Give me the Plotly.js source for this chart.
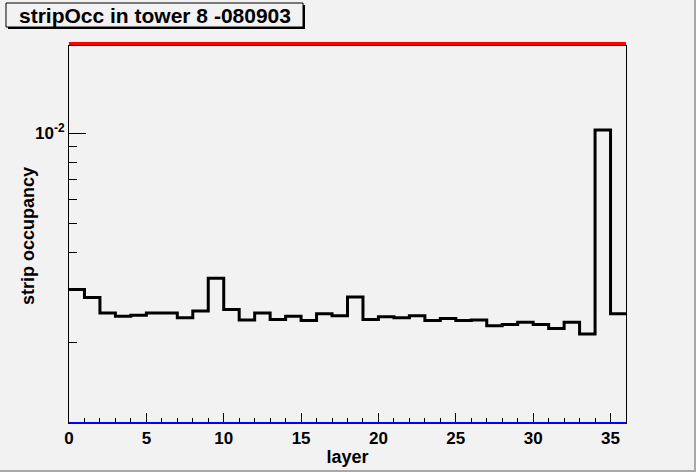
<!DOCTYPE html>
<html>
<head>
<meta charset="utf-8">
<script src="https://cdn.plot.ly/plotly-3.0.1.min.js"></script>
<style>
html,body{margin:0;padding:0;background:#f2f2f2;}
#chart{width:696px;height:472px;}
</style>
</head>
<body>
<div id="chart"></div>
<script>
// Layer index (bin lower edges) and strip occupancy per layer
const layers = [0,1,2,3,4,5,6,7,8,9,10,11,12,13,14,15,16,17,18,19,20,21,22,23,24,25,26,27,28,29,30,31,32,33,34,35];
const occupancy = [
  3.00e-3, 2.82e-3, 2.50e-3, 2.44e-3, 2.46e-3, 2.50e-3, 2.50e-3, 2.41e-3, 2.54e-3, 3.27e-3,
  2.57e-3, 2.37e-3, 2.50e-3, 2.38e-3, 2.44e-3, 2.36e-3, 2.49e-3, 2.45e-3, 2.83e-3, 2.38e-3,
  2.43e-3, 2.41e-3, 2.45e-3, 2.36e-3, 2.40e-3, 2.36e-3, 2.37e-3, 2.27e-3, 2.29e-3, 2.33e-3,
  2.29e-3, 2.22e-3, 2.33e-3, 2.13e-3, 1.026e-2, 2.49e-3
];
const xTickVals = [0,5,10,15,20,25,30,35];
const yTickVals = [0.01];
const yTickText = ['10<sup>-2</sup>'];
const yMinorVals = [0.002,0.003,0.004,0.005,0.006,0.007,0.008,0.009,0.02];
const titleText = 'stripOcc in tower 8 -080903';
const xTitle = 'layer';
const yTitle = 'strip occupancy';

// Step histogram: bin edges + repeat last value at the upper edge
const nBins = layers.length;
const xs = layers.concat([layers[nBins-1] + 1]);
const ys = occupancy.concat([occupancy[nBins-1]]);

// paper-coordinate helpers (plot area: x 69..626 px, y 46..423 px)
const L = 69, R = 626, T = 46, B = 423;
const px = p => (p - L) / (R - L);
const py = p => (B - p) / (B - T);

const trace = {
  x: xs, y: ys, type: 'scatter', mode: 'lines',
  line: {shape: 'hv', color: '#000000', width: 3},
  hoverinfo: 'x+y', showlegend: false
};

const font = {family: '"Liberation Sans", Arial, sans-serif', color: '#000', weight: 'bold'};

const layout = {
  width: 696, height: 472,
  paper_bgcolor: '#f2f2f2', plot_bgcolor: '#f2f2f2',
  margin: {l: L, r: 696 - R, t: T, b: 472 - B, pad: 0},
  showlegend: false,
  xaxis: {
    range: [0, 36], tickmode: 'array', tickvals: xTickVals,
    ticks: 'inside', ticklen: 10, tickwidth: 1, tickcolor: '#000',
    minor: {dtick: 1, tick0: 0, ticks: 'inside', ticklen: 5, tickwidth: 1, tickcolor: '#000'},
    showline: true, mirror: true, linecolor: '#000', linewidth: 1,
    showgrid: false, zeroline: false,
    tickfont: Object.assign({size: 17}, font),
    title: {text: xTitle, font: Object.assign({size: 18}, font), standoff: 2}
  },
  yaxis: {
    type: 'log', range: [-2.970, -1.7076],
    tickmode: 'array', tickvals: yTickVals, ticktext: yTickText,
    ticks: 'inside', ticklen: 17, tickwidth: 1, tickcolor: '#000',
    minor: {tickmode: 'array', tickvals: yMinorVals, ticks: 'inside', ticklen: 8, tickwidth: 1, tickcolor: '#000'},
    showline: true, mirror: true, linecolor: '#000', linewidth: 1,
    showgrid: false, zeroline: false,
    tickfont: Object.assign({size: 17}, font)
  },
  shapes: [
    // red reference line just above the frame
    {type: 'line', xref: 'x', yref: 'paper', x0: 0, x1: 36, y0: py(43.5), y1: py(43.5),
     line: {color: '#ff0000', width: 3}},
    // blue reference line on the x axis
    {type: 'line', xref: 'x', yref: 'paper', x0: 0, x1: 36, y0: 0, y1: 0,
     line: {color: '#0000ff', width: 2}},
    // title box shadow
    {type: 'rect', xref: 'paper', yref: 'paper', x0: px(8), x1: px(305), y0: py(29), y1: py(5),
     fillcolor: '#000', line: {width: 0}},
    // title box
    {type: 'rect', xref: 'paper', yref: 'paper', x0: px(6), x1: px(303), y0: py(27), y1: py(3),
     fillcolor: '#f2f2f2', line: {color: '#000', width: 1}},
    // canvas bevel (right & bottom)
    {type: 'rect', xref: 'paper', yref: 'paper', x0: px(694), x1: px(696), y0: py(472), y1: py(0),
     fillcolor: '#a8a8a8', line: {width: 0}},
    {type: 'rect', xref: 'paper', yref: 'paper', x0: px(0), x1: px(696), y0: py(472), y1: py(470),
     fillcolor: '#a8a8a8', line: {width: 0}}
  ],
  annotations: [
    {text: titleText, xref: 'paper', yref: 'paper', x: px(154.5), y: py(15.5),
     xanchor: 'center', yanchor: 'middle', showarrow: false,
     font: Object.assign({size: 21}, font)},
    {text: yTitle, xref: 'paper', yref: 'paper', x: px(27.5), y: py(236.5),
     xanchor: 'center', yanchor: 'middle', showarrow: false, textangle: -90,
     font: Object.assign({size: 18}, font)}
  ]
};

Plotly.newPlot('chart', [trace], layout, {staticPlot: true, displayModeBar: false});
</script>
</body>
</html>
